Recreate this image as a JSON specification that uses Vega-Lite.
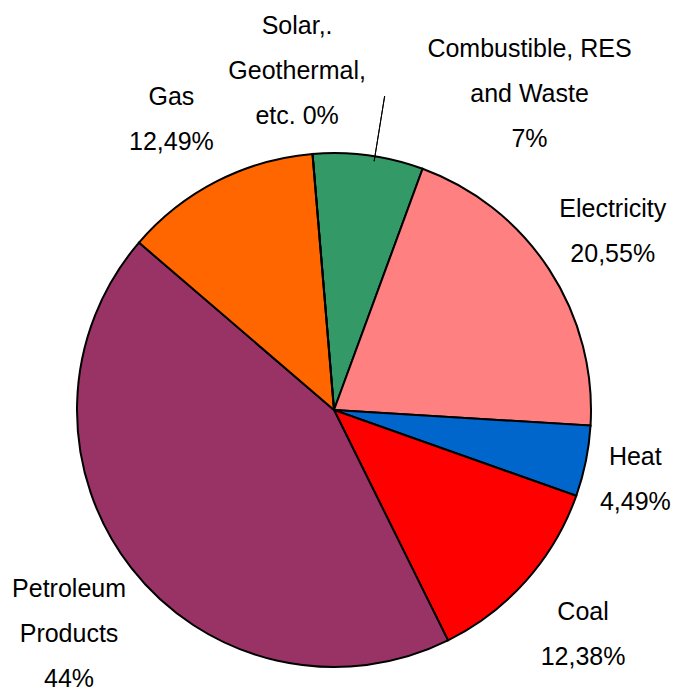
{
  "$schema": "https://vega.github.io/schema/vega-lite/v6.json",
  "width": 675,
  "height": 692,
  "autosize": "none",
  "padding": 0,
  "background": "white",
  "view": {"stroke": null},
  "config": {
    "text": {"font": "Liberation Sans", "fontSize": 25, "letterSpacing": -0.8, "lineBreak": "\n", "lineHeight": 45, "align": "center", "baseline": "middle", "color": "black"}
  },
  "data": {
    "values": [
      {"idx": 1, "cat": "Combustible, RES and Waste", "value": 7, "label": "Combustible, RES\nand Waste\n7%"},
      {"idx": 2, "cat": "Electricity", "value": 20.55, "label": "Electricity\n20,55%"},
      {"idx": 3, "cat": "Heat", "value": 4.49, "label": "Heat\n4,49%"},
      {"idx": 4, "cat": "Coal", "value": 12.38, "label": "Coal\n12,38%"},
      {"idx": 5, "cat": "Petroleum Products", "value": 44, "label": "Petroleum\nProducts\n44%"},
      {"idx": 6, "cat": "Gas", "value": 12.49, "label": "Gas\n12,49%"},
      {"idx": 7, "cat": "Solar, Geothermal, etc.", "value": 0, "label": "Solar,.\nGeothermal,\netc. 0%"}
    ]
  },
  "encoding": {
    "theta": {"field": "value", "type": "quantitative", "stack": true, "scale": {"range": [-0.0838, 6.1994]}},
    "order": {"field": "idx", "type": "quantitative"}
  },
  "layer": [
    {
      "mark": {"type": "arc", "x": 334, "y": 410, "outerRadius": 257, "stroke": "black", "strokeWidth": 2},
      "encoding": {
        "color": {
          "field": "cat",
          "type": "nominal",
          "scale": {
            "domain": ["Combustible, RES and Waste", "Electricity", "Heat", "Coal", "Petroleum Products", "Gas", "Solar, Geothermal, etc."],
            "range": ["#339966", "#FF8080", "#0066CC", "#FF0000", "#993366", "#FF6600", "#FFFF00"]
          },
          "legend": null
        }
      }
    },
    {
      "mark": {"type": "text", "x": 334, "y": 410, "radius": 333, "dy": -19},
      "encoding": {
        "text": {"condition": {"test": "datum.idx === 2 || datum.idx === 4", "field": "label", "type": "nominal"}, "value": ""}
      }
    },
    {
      "mark": {"type": "text", "x": 334, "y": 410, "radius": 333, "dx": -11, "dy": -17},
      "encoding": {
        "text": {"condition": {"test": "datum.idx === 6", "field": "label", "type": "nominal"}, "value": ""}
      }
    },
    {
      "mark": {"type": "text", "x": 334, "y": 410, "radius": 333, "dx": -25, "dy": -19},
      "encoding": {
        "text": {"condition": {"test": "datum.idx === 3", "field": "label", "type": "nominal"}, "value": ""}
      }
    },
    {
      "mark": {"type": "text", "x": 334, "y": 410, "radius": 333, "dx": -2, "dy": -25},
      "encoding": {
        "text": {"condition": {"test": "datum.idx === 5", "field": "label", "type": "nominal"}, "value": ""}
      }
    },
    {
      "mark": {"type": "text", "x": 334, "y": 410, "radius": 333, "dx": -9, "dy": -52},
      "encoding": {
        "text": {"condition": {"test": "datum.idx === 7", "field": "label", "type": "nominal"}, "value": ""}
      }
    },
    {
      "mark": {"type": "text", "x": 334, "y": 410, "radius": 333, "dx": 151, "dy": -31},
      "encoding": {
        "text": {"condition": {"test": "datum.idx === 1", "field": "label", "type": "nominal"}, "value": ""}
      }
    },
    {
      "data": {"values": [{"cat": "leader"}]},
      "mark": {"type": "arc", "x": 334, "y": 410, "theta": 0.16, "theta2": 0.16, "radius2": 252, "radius": 318, "fill": null, "stroke": "black", "strokeWidth": 1},
      "encoding": {"theta": null, "order": null}
    }
  ]
}
